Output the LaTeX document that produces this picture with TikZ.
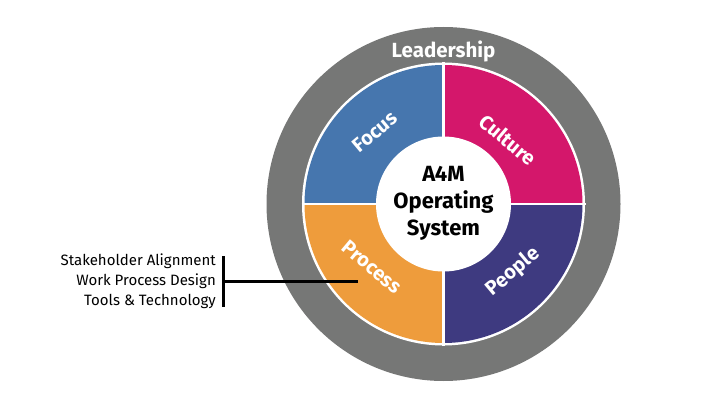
\documentclass[tikz,border=0pt]{standalone}
\usepackage{fontspec}
\setmainfont{Fira Sans}
\definecolor{ringgray}{HTML}{767776}
\definecolor{qblue}{HTML}{4676AE}
\definecolor{qmagenta}{HTML}{D4176B}
\definecolor{qpurple}{HTML}{3E3A80}
\definecolor{qorange}{HTML}{EE9C3C}
\tikzset{
  qlabel/.style={text=white, font=\fontsize{20}{20}\selectfont\bfseries, inner sep=0pt},
  centertext/.style={text=black, font=\fontsize{22}{27}\selectfont\bfseries, align=center, inner sep=0pt},
  sidetext/.style={text=black, font=\fontsize{15}{20}\selectfont, align=right, inner sep=0pt},
  leadline/.style={line width=3pt, black}
}
\begin{document}
\begin{tikzpicture}[x=1pt,y=1pt]
\useasboundingbox (0,0) rectangle (720,405);
\coordinate (C) at (443.5,201);
% outer ring
\fill[ringgray] (C) circle (177);
\fill[white] (C) circle (141.5);
% quadrants
\fill[qblue] (C) -- ++(180:139) arc (180:90:139) -- cycle;
\fill[qmagenta] (C) -- ++(90:139) arc (90:0:139) -- cycle;
\fill[qpurple] (C) -- ++(0:139) arc (0:-90:139) -- cycle;
\fill[qorange] (C) -- ++(270:139) arc (270:180:139) -- cycle;
\draw[white, line width=2.5pt] ([xshift=-142pt]C) -- ([xshift=142pt]C);
\draw[white, line width=2.5pt] ([yshift=-142pt]C) -- ([yshift=142pt]C);
\fill[white] (C) circle (67.5);
% labels
\node[text=white, font=\fontsize{20.5}{20.5}\selectfont\bfseries, inner sep=0pt] (lead) at (443.5,354) {Leadership};
\node[qlabel, rotate=40] (focus) at (375,273) {Focus};
\node[qlabel, rotate=-40] (culture) at (508,265) {Culture};
\node[qlabel, rotate=-40] (process) at (372,138) {Process};
\node[qlabel, rotate=40] (people) at (513,133) {People};
\node[centertext] (center) at (443.5,202) {A4M\\Operating\\System};
% side list
\node[sidetext, anchor=east] (list) at (216,124) {Stakeholder Alignment\\Work Process Design\\Tools \& Technology};
\coordinate (btop) at (223,149);
\coordinate (bbot) at (223,98);
\coordinate (bmid) at (223,124);
\coordinate (ptip) at (358,124);
\draw[leadline] (btop) -- (bbot);
\draw[leadline] (bmid) -- (ptip);
\end{tikzpicture}
\end{document}
